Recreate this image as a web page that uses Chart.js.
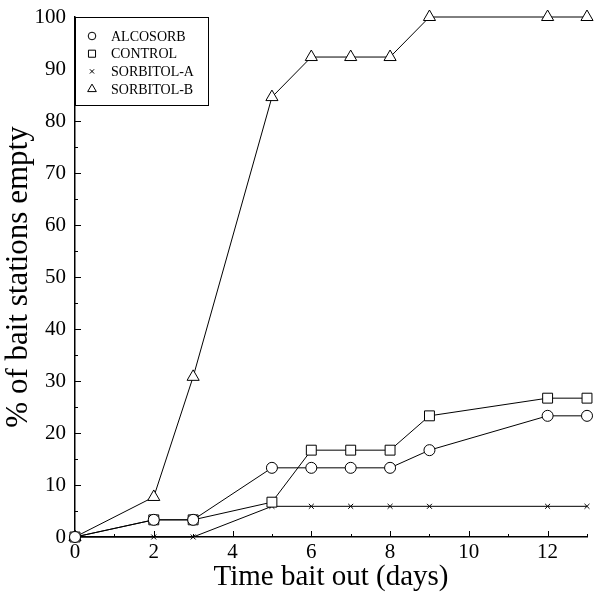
<!DOCTYPE html>
<html>
<head>
<meta charset="utf-8">
<script src="https://cdn.jsdelivr.net/npm/chart.js@4.4.1/dist/chart.umd.min.js"></script>
<style>
  html, body { margin: 0; padding: 0; background: #fff; }
  #wrap { width: 595px; height: 595px; }
</style>
</head>
<body>
<div id="wrap"><canvas id="chart" width="595" height="595"></canvas></div>
<script>
// data
const days = [0, 2, 3, 5, 6, 7, 8, 9, 12, 13];
const alcosorb = [0, 3.3, 3.3, 13.3, 13.3, 13.3, 13.3, 16.7, 23.3, 23.3];
const control = [0, 3.3, 3.3, 6.7, 16.7, 16.7, 16.7, 23.3, 26.7, 26.7];
const sorbitolA = [0, 0, 0, 5.9, 5.9, 5.9, 5.9, 5.9, 5.9, 5.9];
const sorbitolB = [0, 7.7, 30.8, 84.6, 92.3, 92.3, 92.3, 100, 100, 100];
const seriesNames = ['ALCOSORB', 'CONTROL', 'SORBITOL-A', 'SORBITOL-B'];
const xTicks = [0, 2, 4, 6, 8, 10, 12];
const yTicks = [0, 10, 20, 30, 40, 50, 60, 70, 80, 90, 100];

const serif = 'Liberation Serif';

function pts(ys) {
    return days.map((d, i) => ({ x: d, y: ys[i] }));
}

function makeSet(label, ys, style, radius) {
    return {
        label: label,
        data: pts(ys),
        borderColor: '#000',
        borderWidth: 1,
        backgroundColor: '#fff',
        pointStyle: style,
        pointRadius: radius,
        pointBorderWidth: 1,
        pointBorderColor: '#000',
        pointBackgroundColor: '#fff',
        clip: false,
        tension: 0
    };
}

// inward tick marks, like the original plot
const innerTicks = {
    id: 'innerTicks',
    beforeDatasetsDraw(chart) {
        const ctx = chart.ctx;
        const xs = chart.scales.x, ys = chart.scales.y;
        const bottom = ys.getPixelForValue(0);
        const left = xs.getPixelForValue(0);
        ctx.save();
        ctx.strokeStyle = '#000';
        ctx.lineWidth = 1;
        ctx.beginPath();
        for (let v = 0; v <= 13; v++) {
            const px = Math.round(xs.getPixelForValue(v)) + 0.5;
            const len = v % 2 === 0 ? 6 : 3;
            ctx.moveTo(px, bottom);
            ctx.lineTo(px, bottom - len);
        }
        for (let v = 0; v <= 100; v += 5) {
            const py = Math.round(ys.getPixelForValue(v)) + 0.5;
            const len = v % 10 === 0 ? 6 : 3;
            ctx.moveTo(left, py);
            ctx.lineTo(left + len, py);
        }
        ctx.stroke();
        ctx.restore();
    }
};

// boxed legend in the upper-left corner
const boxLegend = {
    id: 'boxLegend',
    afterDraw(chart) {
        const ctx = chart.ctx;
        const area = chart.chartArea;
        const x0 = area.left, y0 = area.top;
        const w = 133, h = 88;
        ctx.save();
        ctx.fillStyle = '#fff';
        ctx.fillRect(x0, y0, w, h);
        ctx.strokeStyle = '#000';
        ctx.lineWidth = 1;
        ctx.strokeRect(x0 + 0.5, y0 + 0.5, w, h);
        ctx.font = '14px "' + serif + '"';
        ctx.textBaseline = 'middle';
        chart.data.datasets.forEach((ds, i) => {
            const cy = y0 + 19 + i * 17.7;
            ctx.fillStyle = '#fff';
            ctx.strokeStyle = '#000';
            ctx.lineWidth = 1;
            Chart.helpers.drawPoint(ctx, {
                pointStyle: ds.pointStyle,
                radius: ds.pointStyle === 'crossRot' ? 3 : (ds.pointStyle === 'circle' ? 3.8 : 5),
                rotation: 0,
                borderWidth: 1
            }, x0 + 17, cy);
            ctx.fillStyle = '#000';
            ctx.fillText(ds.label, x0 + 36, cy + 1);
        });
        ctx.restore();
    }
};

new Chart(document.getElementById('chart'), {
    type: 'line',
    data: {
        datasets: [
            makeSet(seriesNames[0], alcosorb, 'circle', 5.5),
            makeSet(seriesNames[1], control, 'rect', 7),
            makeSet(seriesNames[2], sorbitolA, 'crossRot', 3.5),
            makeSet(seriesNames[3], sorbitolB, 'triangle', 7)
        ]
    },
    options: {
        responsive: false,
        animation: false,
        layout: { padding: { top: 17, right: 6, left: 0, bottom: 0 } },
        plugins: {
            legend: { display: false },
            tooltip: { enabled: false }
        },
        scales: {
            x: {
                type: 'linear',
                min: 0,
                max: 13,
                afterBuildTicks: s => { s.ticks = xTicks.map(v => ({ value: v })); },
                afterFit: s => { s.height = 58; s.paddingLeft = 0; s.paddingRight = 0; },
                grid: { display: false, drawTicks: false },
                border: { display: true, color: '#000', width: 1.5 },
                ticks: { color: '#000', padding: 3, font: { family: serif, size: 21 } },
                title: {
                    display: true,
                    text: 'Time bait out (days)',
                    color: '#000',
                    padding: { top: -3, bottom: 0 },
                    font: { family: serif, size: 29 }
                }
            },
            y: {
                min: 0,
                max: 100,
                afterBuildTicks: s => { s.ticks = yTicks.map(v => ({ value: v })); },
                afterFit: s => { s.width = 75; s.paddingTop = 0; s.paddingBottom = 0; },
                grid: { display: false, drawTicks: false },
                border: { display: true, color: '#000', width: 1.5 },
                ticks: { color: '#000', padding: 9, font: { family: serif, size: 21 } },
                title: {
                    display: true,
                    text: '% of bait stations empty',
                    color: '#000',
                    padding: { top: 0, bottom: 0 },
                    font: { family: serif, size: 31 }
                }
            }
        }
    },
    plugins: [innerTicks, boxLegend]
});
</script>
</body>
</html>
